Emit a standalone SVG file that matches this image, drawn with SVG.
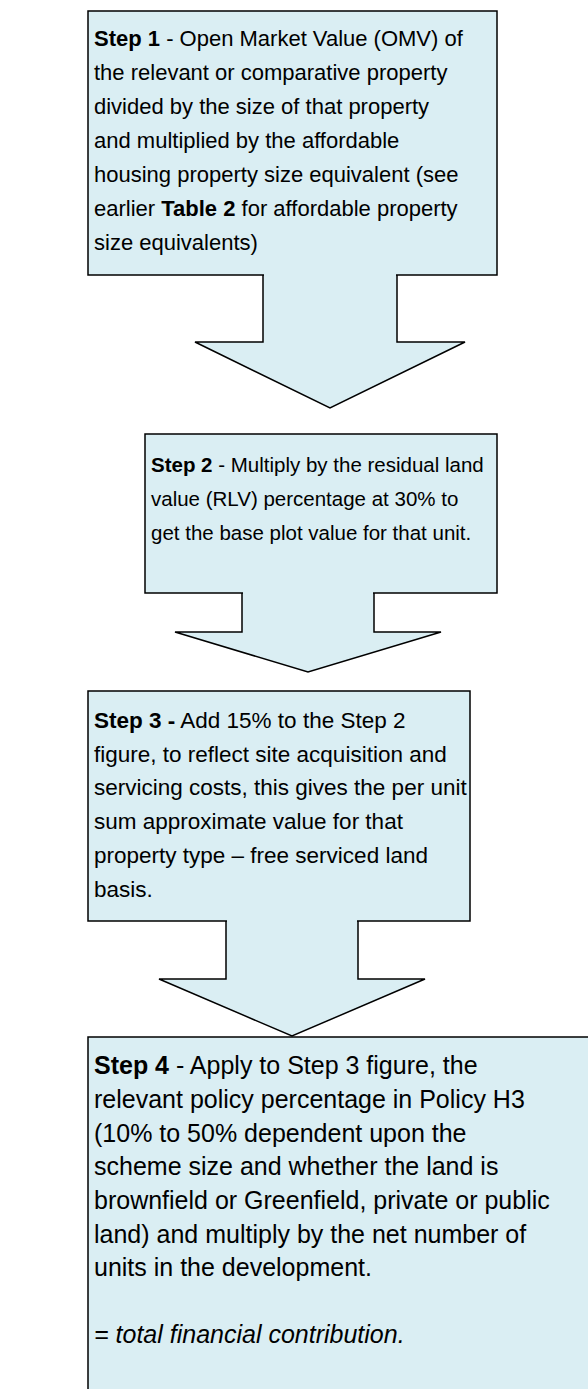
<svg xmlns="http://www.w3.org/2000/svg" width="588" height="1389" viewBox="0 0 588 1389">
<style>
.shape{fill:#DAEEF3;stroke:#000;stroke-width:1.5;stroke-linejoin:miter}
.t{font-family:"Liberation Sans",Arial,sans-serif;fill:#000}
.s1{font-size:22px}
.s2{font-size:20.5px}
.s3{font-size:22.5px}
.s4{font-size:25px}
.b{font-weight:bold}
.i{font-style:italic}
</style>
<rect width="588" height="1389" fill="#fff"/>
<g id="connectors">
<path class="shape" d="M263,275 V342 H195 L330,408 L465,342 H397 V275"/>
<path class="shape" d="M242,593 V632 H175 L308,672 L441,632 H374 V593"/>
<path class="shape" d="M226,921 V979 H159 L292,1036 L425,979 H358 V921"/>
</g>
<g id="step1">
<path class="shape" d="M88,11 H497 V275 H88 Z"/>
<rect x="264" y="270" width="132" height="8" fill="#DAEEF3"/>
<g class="t s1">
<text x="94" y="46"><tspan class="b">Step 1</tspan> - Open Market Value (OMV) of</text>
<text x="94" y="80">the relevant or comparative property</text>
<text x="94" y="114">divided by the size of that property</text>
<text x="94" y="148">and multiplied by the affordable</text>
<text x="94" y="182">housing property size equivalent (see</text>
<text x="94" y="216">earlier <tspan class="b">Table 2</tspan> for affordable property</text>
<text x="94" y="250">size equivalents)</text>
</g>
</g>
<g id="step2">
<path class="shape" d="M145,434 H497 V593 H145 Z"/>
<rect x="243" y="588" width="130" height="8" fill="#DAEEF3"/>
<g class="t s2">
<text x="151" y="472"><tspan class="b">Step 2</tspan> - Multiply by the residual land</text>
<text x="151" y="506">value (RLV) percentage at 30% to</text>
<text x="151" y="540">get the base plot value for that unit.</text>
</g>
</g>
<g id="step3">
<path class="shape" d="M88,691 H470 V921 H88 Z"/>
<rect x="227" y="916" width="130" height="8" fill="#DAEEF3"/>
<g class="t s3">
<text x="94" y="728"><tspan class="b">Step 3 -</tspan> Add 15% to the Step 2</text>
<text x="94" y="762">figure, to reflect site acquisition and</text>
<text x="94" y="795">servicing costs, this gives the per unit</text>
<text x="94" y="829">sum approximate value for that</text>
<text x="94" y="863">property type – free serviced land</text>
<text x="94" y="897">basis.</text>
</g>
</g>
<g id="step4">
<path class="shape" d="M600,1037 H88 V1400 H600 Z"/>
<g class="t s4">
<text x="94" y="1074"><tspan class="b">Step 4</tspan> - Apply to Step 3 figure, the</text>
<text x="94" y="1108">relevant policy percentage in Policy H3</text>
<text x="94" y="1142">(10% to 50% dependent upon the</text>
<text x="94" y="1175">scheme size and whether the land is</text>
<text x="94" y="1209">brownfield or Greenfield, private or public</text>
<text x="94" y="1243">land) and multiply by the net number of</text>
<text x="94" y="1276">units in the development.</text>
<text class="i" x="94" y="1343">= total financial contribution.</text>
</g>
</g>
</svg>
